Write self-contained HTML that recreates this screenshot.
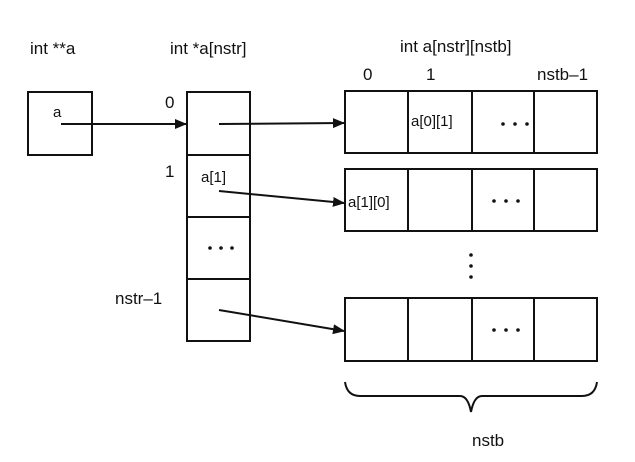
<!DOCTYPE html>
<html><head><style>body{margin:0;background:#fff}</style></head><body>
<svg width="635" height="457" xmlns="http://www.w3.org/2000/svg" font-family="Liberation Sans, Arial, sans-serif" fill="none" stroke="#111" stroke-width="2">
<defs><marker id="ar" markerWidth="12" markerHeight="10" refX="11" refY="5" orient="auto" markerUnits="userSpaceOnUse"><path d="M0,0 L12,5 L0,10 z" fill="#111" stroke="none"/></marker></defs>
<g fill="#111" stroke="none" font-size="17">
<text x="30" y="54">int **a</text>
<text x="170" y="54">int *a[nstr]</text>
<text x="400" y="52">int a[nstr][nstb]</text>
<text x="363" y="80">0</text><text x="426" y="80">1</text><text x="537" y="80">nstb–1</text>
<text x="165" y="108">0</text><text x="165" y="177">1</text><text x="115" y="304">nstr–1</text>
<text x="53" y="117" font-size="15">a</text>
<text x="201" y="182" font-size="15">a[1]</text>
<text x="411" y="126" font-size="15">a[0][1]</text>
<text x="348" y="207" font-size="15">a[1][0]</text>
<text x="472" y="446">nstb</text>
<circle cx="503" cy="124" r="1.8"/><circle cx="515" cy="124" r="1.8"/><circle cx="527" cy="124" r="1.8"/>
<circle cx="494" cy="201" r="1.8"/><circle cx="506" cy="201" r="1.8"/><circle cx="518" cy="201" r="1.8"/>
<circle cx="494" cy="330" r="1.8"/><circle cx="506" cy="330" r="1.8"/><circle cx="518" cy="330" r="1.8"/>
<circle cx="210" cy="248" r="1.8"/><circle cx="221" cy="248" r="1.8"/><circle cx="232" cy="248" r="1.8"/>
<circle cx="471" cy="255" r="1.8"/><circle cx="471" cy="266" r="1.8"/><circle cx="471" cy="277" r="1.8"/>
</g>
<rect x="28" y="92" width="64" height="63"/>
<rect x="187" y="92" width="63" height="249"/>
<line x1="187" y1="155" x2="250" y2="155"/><line x1="187" y1="217" x2="250" y2="217"/><line x1="187" y1="279" x2="250" y2="279"/>
<g>
<rect x="345" y="91" width="252" height="62"/><rect x="345" y="169" width="252" height="62"/><rect x="345" y="298" width="252" height="63"/>
<path d="M408 91V153M472 91V153M534 91V153M408 169V231M472 169V231M534 169V231M408 298V361M472 298V361M534 298V361"/>
</g>
<g marker-end="url(#ar)">
<line x1="61" y1="124" x2="186" y2="124"/>
<line x1="219" y1="124" x2="344" y2="123"/>
<line x1="219" y1="191" x2="344" y2="203"/>
<line x1="219" y1="310" x2="344" y2="331"/>
</g>
<path d="M345 382 Q347 396 360 396 L460 396 Q468 396 471 412 Q474 396 482 396 L582 396 Q595 396 597 382" stroke-width="2"/>
</svg>
</body></html>
